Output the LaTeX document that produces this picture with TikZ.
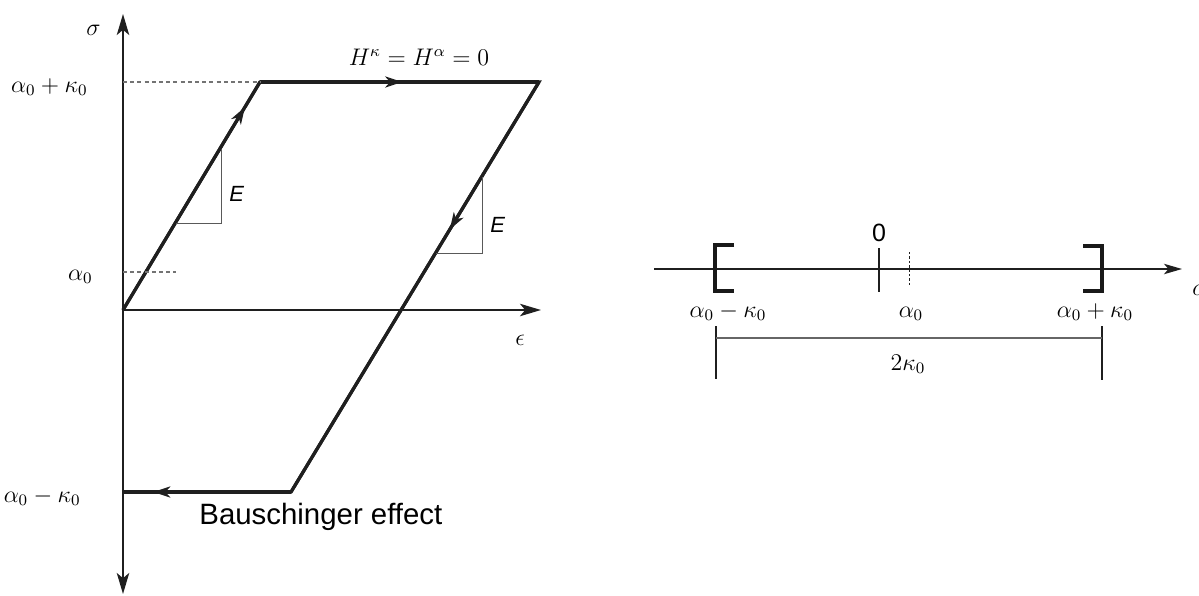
\documentclass[tikz,border=0pt]{standalone}
\usepackage{fontspec}
\newfontfamily\sansf{Liberation Sans}
\usetikzlibrary{arrows.meta,decorations.markings}
\tikzset{axtip/.tip={Stealth[length=10.5pt,width=6.2pt,inset=2.6pt]},
  rtip/.tip={Stealth[length=9pt,width=5.2pt,inset=2.2pt]},
  mtip/.tip={Stealth[length=8.5pt,width=5.5pt,inset=2.4pt]}}
\begin{document}
\begin{tikzpicture}[x=0.5pt,y=-0.5pt,
  ink/.style={draw=black!88},
  axisline/.style={ink,line width=1pt},
  loopline/.style={ink,line width=1.6pt,line join=miter},
  thinline/.style={draw=black!65,line width=0.5pt},
  dashline/.style={draw=black!55,line width=0.6pt,dash pattern=on 2pt off 1.6pt},
  midarrow/.style={postaction={decorate},decoration={markings,
      mark=at position #1 with {\arrow{mtip}}}},
  mlabel/.style={inner sep=0pt,font=\fontsize{12}{14}\selectfont},
  slabel/.style={inner sep=0pt,font=\sansf\fontsize{11}{13}\selectfont},
  bracket/.style={draw=black!90,line width=1.7pt,line join=miter}]
\useasboundingbox (0,0) rectangle (1199,595);

% ---------- left: stress-strain diagram ----------
\coordinate (Vbot) at (123,594);
\coordinate (Vtop) at (123,14);
\coordinate (O) at (123,310);
\coordinate (Eend) at (541,310);
\draw[axisline,arrows={axtip-axtip}] (Vbot) -- (Vtop);
\draw[axisline,arrows={-axtip}] (O) -- (Eend);

\coordinate (A) at (260,82);
\coordinate (B) at (539,82);
\coordinate (C) at (291,492);
\coordinate (D) at (123,492);
\draw[loopline] (O) -- (A) -- (B) -- (C) -- (D);
\draw[loopline,midarrow=0.89] (O) -- (A);
\draw[loopline,midarrow=0.51] (A) -- (B);
\draw[loopline,midarrow=0.36] (B) -- (C);
\draw[loopline,midarrow=0.82] (C) -- (D);

% dashed level lines
\coordinate (Ltop) at (123,82);
\coordinate (Lmid) at (123,272);
\coordinate (Lmidend) at (176,272);
\draw[dashline] (Ltop) -- (A);
\draw[dashline] (Lmid) -- (Lmidend);

% slope triangles
\coordinate (T1a) at (176,223);
\coordinate (T1b) at (221,223);
\coordinate (T1c) at (221,149);
\draw[thinline] (T1a) -- (T1b) -- (T1c);
\coordinate (T2a) at (436,253);
\coordinate (T2b) at (482,253);
\coordinate (T2c) at (482,177);
\draw[thinline] (T2a) -- (T2b) -- (T2c);

% labels
\node[mlabel,anchor=base] (sig) at (93.5,35) {$\sigma$};
\node[mlabel,anchor=base] (eps) at (520,345) {$\epsilon$};
\node[mlabel,anchor=base east] (ak) at (88,92) {$\alpha_0+\kappa_0$};
\node[mlabel,anchor=base east] (a0) at (93,280) {$\alpha_0$};
\node[mlabel,anchor=base east] (amk) at (81,502) {$\alpha_0-\kappa_0$};
\node[mlabel,anchor=base] (H) at (419,65) {$H^\kappa=H^\alpha=0$};
\node[slabel,anchor=base west] (E1) at (229,201) {\itshape E};
\node[slabel,anchor=base west] (E2) at (490,232) {\itshape E};
\node[inner sep=0pt,anchor=base west,font=\sansf\fontsize{14.7}{17}\selectfont] (bau) at (199,524) {Bauschinger effect};

% ---------- right: interval on the alpha axis ----------
\coordinate (Rl) at (654,269);
\coordinate (Rr) at (1182,269);
\draw[ink,line width=0.85pt,arrows={-rtip}] (Rl) -- (Rr);

\coordinate (BLa) at (734,245);
\coordinate (BLb) at (715,245);
\coordinate (BLc) at (715,291);
\coordinate (BLd) at (734,291);
\draw[bracket] (BLa) -- (BLb) -- (BLc) -- (BLd);
\coordinate (BRa) at (1083,246);
\coordinate (BRb) at (1102,246);
\coordinate (BRc) at (1102,291);
\coordinate (BRd) at (1083,291);
\draw[bracket] (BRa) -- (BRb) -- (BRc) -- (BRd);

\coordinate (Z1) at (879,248);
\coordinate (Z2) at (879,292);
\draw[ink,line width=0.6pt] (Z1) -- (Z2);
\coordinate (Q1) at (909,252);
\coordinate (Q2) at (909,286);
\draw[ink,line width=0.5pt,dash pattern=on 1.2pt off 1pt] (Q1) -- (Q2);

\coordinate (DL1) at (716,326);
\coordinate (DL2) at (716,379);
\coordinate (DR1) at (1102,326);
\coordinate (DR2) at (1102,380);
\coordinate (DH1) at (716,338);
\coordinate (DH2) at (1102,338);
\draw[ink,line width=0.55pt] (DL1) -- (DL2);
\draw[ink,line width=0.55pt] (DR1) -- (DR2);
\draw[draw=black!60,line width=0.7pt] (DH1) -- (DH2);

\node[inner sep=0pt,anchor=base,font=\sansf\fontsize{12.5}{15}\selectfont] (zero) at (879,241) {0};
\node[mlabel,anchor=base] (r1) at (728,317) {$\alpha_0-\kappa_0$};
\node[mlabel,anchor=base] (r2) at (911,317) {$\alpha_0$};
\node[mlabel,anchor=base] (r3) at (1095,317) {$\alpha_0+\kappa_0$};
\node[mlabel,anchor=base] (r4) at (908,370) {$2\kappa_0$};
\node[mlabel,anchor=base west] (ra) at (1192,295) {$\alpha$};
\end{tikzpicture}
\end{document}
